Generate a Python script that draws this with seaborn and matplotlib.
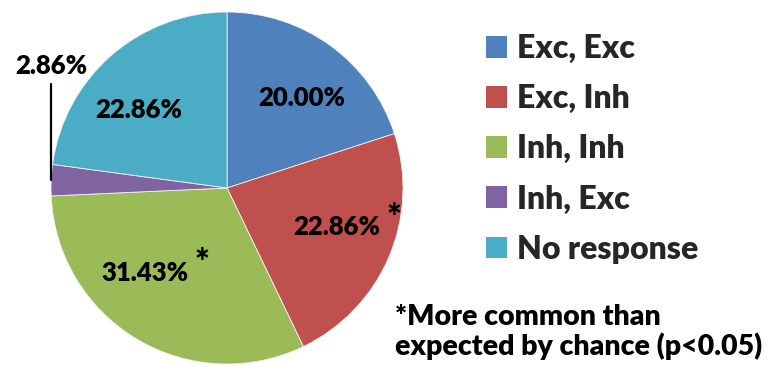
import numpy as np
import matplotlib
matplotlib.use("Agg")
import matplotlib.pyplot as plt
from matplotlib.patches import Patch
import seaborn as sns

categories = ["Exc, Exc", "Exc, Inh", "Inh, Inh", "Inh, Exc", "No response"]
percent = [20.00, 22.86, 31.43, 2.86, 22.86]
significant = [False, True, True, False, False]
colors = ["#4F81BD", "#C0504D", "#9BBB59", "#8064A2", "#4BACC6"]
footnote = "*More common than\nexpected by chance (p<0.05)"

sns.set_theme(style="white")
plt.rcParams["font.family"] = ["Lato", "DejaVu Sans"]
WEIGHT = "heavy"

W, H = 775, 373
fig = plt.figure(figsize=(W / 100, H / 100), dpi=100)
cx, cy, R = 227, 188, 176
ax = fig.add_axes([(cx - R) / W, (H - cy - R) / H, 2 * R / W, 2 * R / H])
ax.set_aspect("equal")

wedges, _ = ax.pie(percent, colors=colors, startangle=90, counterclock=False,
                   radius=1.0, wedgeprops=dict(edgecolor="#f2f2f2", linewidth=0.6))
ax.set_xlim(-1, 1)
ax.set_ylim(-1, 1)
ax.axis("off")

# label placement: (angle offset from wedge middle in degrees, radial fraction)
label_pos = [(-4, 0.665), (3.5, 0.665), (-13, 0.67), None, (7.5, 0.67)]
lbl_fs = 18.5
for w, p, sig, pos in zip(wedges, percent, significant, label_pos):
    mid = 0.5 * (w.theta1 + w.theta2)
    txt = f"{p:.2f}%"
    if pos is None:
        # small slice: label outside with a vertical leader line
        ex, ey = np.cos(np.radians(mid)), np.sin(np.radians(mid))
        ax.plot([ex, ex], [ey, 0.59], color="black", lw=1.6, clip_on=False)
        ax.text(ex, 0.695, txt, ha="center", va="center", fontsize=lbl_fs,
                fontweight=WEIGHT, color="black", clip_on=False)
        continue
    a = np.radians(mid + pos[0])
    t = ax.text(pos[1] * np.cos(a), pos[1] * np.sin(a), txt, ha="center", va="center",
                fontsize=lbl_fs, fontweight=WEIGHT, color="black")
    if sig:
        ax.annotate("*", xy=(1, 1), xycoords=t, xytext=(4, -14), textcoords="offset points",
                    ha="left", va="bottom", fontsize=25, fontweight=WEIGHT, color="black")

handles = [Patch(facecolor=c, edgecolor="none") for c in colors]
leg = fig.legend(handles, categories, loc="upper left", bbox_to_anchor=(486 / W, 1 - 34 / H),
                 frameon=False, prop=dict(weight=WEIGHT, size=23),
                 handlelength=0.66, handleheight=0.66, handletextpad=0.32, labelspacing=0.66,
                 borderaxespad=0, borderpad=0)

fig.text(395 / W, 1 - 304 / H, footnote, ha="left", va="top", fontsize=20.5,
         fontweight=WEIGHT, color="black", linespacing=1.12)

fig.savefig("out.png", dpi=100, facecolor="white")
